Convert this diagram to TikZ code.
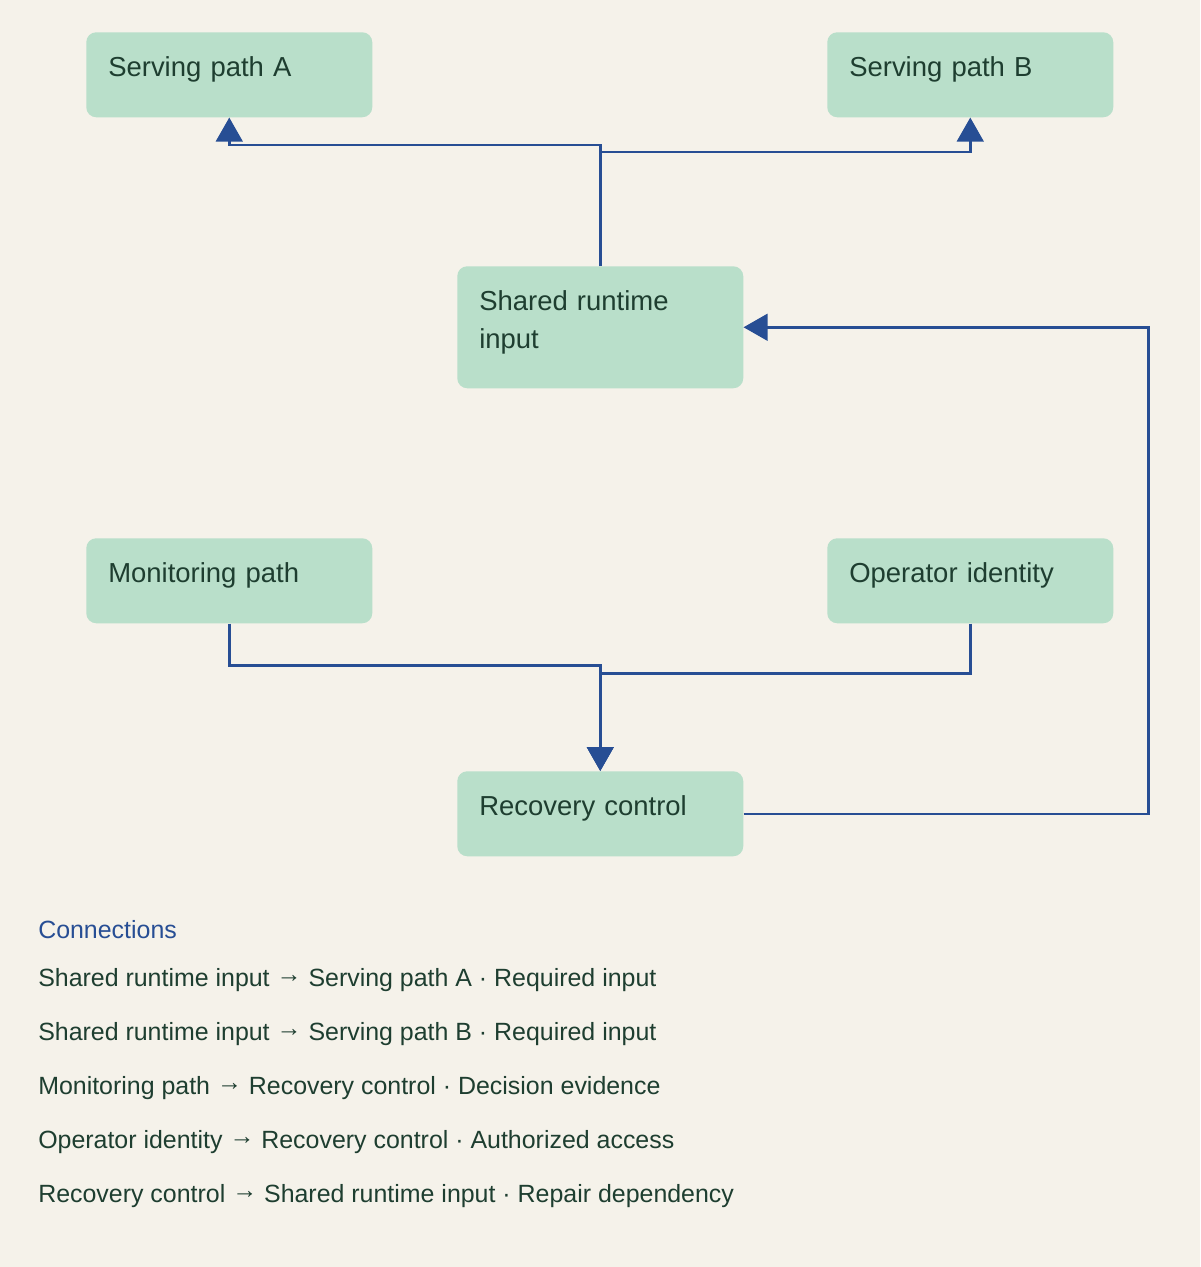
\documentclass[tikz,border=0pt]{standalone}
\usepackage{fontspec}
\setmainfont{Liberation Sans}
\usetikzlibrary{arrows.meta}
\definecolor{bgcol}{HTML}{F5F2EA}
\definecolor{boxcol}{HTML}{B9DFCA}
\definecolor{inkcol}{HTML}{1E3E30}
\definecolor{linkcol}{HTML}{274E94}
\newcommand{\toarrow}{\raisebox{0.14em}{→}}
\tikzset{
  box/.style={rectangle, rounded corners=7.5pt, fill=boxcol, text=inkcol, anchor=north west,
    minimum width=214.5pt, text width=181.5pt, align=left, inner xsep=16.5pt, inner ysep=0pt,
    text height=33pt, text depth=30.75pt, font=\fontsize{20.6pt}{28.5pt}\selectfont},
  link/.style={draw=linkcol, line width=1.9pt, -{Triangle[width=20pt,length=18pt]}},
  legend/.style={anchor=base west, text=inkcol, inner sep=0pt, font=\fontsize{18.7pt}{22pt}\selectfont}
}
\begin{document}
\begin{tikzpicture}[x=0.75pt, y=-0.75pt, line join=miter]
%Nền và khung hình
\fill[bgcol] (0,0) rectangle (1200,1267);
\useasboundingbox (0,0) rectangle (1200,1267);
%Các khối
\node[box] (servA) at (86,32) {Serving path A};
\node[box] (servB) at (827,32) {Serving path B};
\node[box, text depth=58.5pt] (shared) at (457,266) {Shared runtime input};
\node[box] (monit) at (86,538) {Monitoring path};
\node[box] (oper) at (827,538) {Operator identity};
\node[box] (recov) at (457,771) {Recovery control};
%Các mũi tên
\draw[link] (shared.north) -- ++(0,-121) -| (servA.south);
\draw[link] (shared.north) -- ++(0,-114) -| (servB.south);
\draw[link] (monit.south) -- ++(0,42) -| (recov.north);
\draw[link] (oper.south) -- ++(0,50) -| (recov.north);
\draw[link] (recov.east) -- ++(405,0) |- (shared.east);
%Chú thích
\node[legend, text=linkcol] (conn) at (38,938) {Connections};
\node[legend] (leg1) at (38,986) {Shared runtime input \toarrow{} Serving path A · Required input};
\node[legend] (leg2) at (38,1040) {Shared runtime input \toarrow{} Serving path B · Required input};
\node[legend] (leg3) at (38,1094) {Monitoring path \toarrow{} Recovery control · Decision evidence};
\node[legend] (leg4) at (38,1148) {Operator identity \toarrow{} Recovery control · Authorized access};
\node[legend] (leg5) at (38,1202) {Recovery control \toarrow{} Shared runtime input · Repair dependency};
\end{tikzpicture}
\end{document}
